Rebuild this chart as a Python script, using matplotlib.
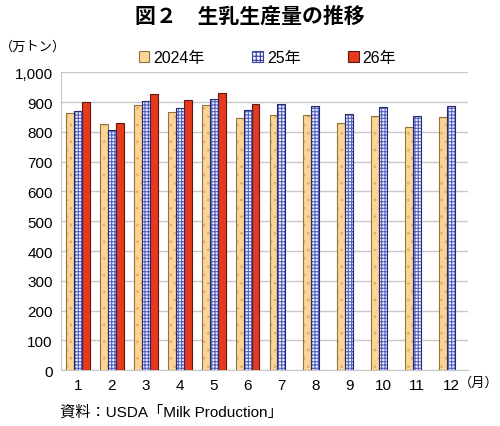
import numpy as np
import matplotlib.pyplot as plt
from matplotlib.patches import Patch

plt.rcParams['font.family'] = ['Liberation Sans', 'Noto Sans CJK JP', 'DejaVu Sans']
plt.rcParams['hatch.linewidth'] = 0.8

months = [str(m) for m in range(1, 13)]
y2024 = [864, 826, 892, 866, 890, 847, 858, 858, 829, 852, 817, 850]
y2025 = [871, 807, 904, 881, 911, 874, 893, 887, 860, 883, 853, 886]
y2026 = [901, 829, 928, 906, 931, 893]
labels = ['2024年', '25年', '26年']

x = np.arange(1, 13)
w = 0.235

fig = plt.figure(figsize=(5, 4.27), dpi=100)
ax = fig.add_axes([0.122, 0.131, 0.814, 0.697])

# 2024: light orange with faint dots
ax.bar(x - w, y2024, w, color='#fcd596', edgecolor='#e0b26a', hatch='..', linewidth=0, zorder=3)
ax.bar(x - w, y2024, w, fill=False, edgecolor='#8f7240', linewidth=0.8, zorder=4)
# 25: blue check on white
ax.bar(x, y2025, w, color='#eef0ff', edgecolor='#5262c4', hatch='+++++', linewidth=0, zorder=3)
ax.bar(x, y2025, w, fill=False, edgecolor='#262a66', linewidth=0.8, zorder=4)
# 26: red
ax.bar(x[:len(y2026)] + w, y2026, w, color='#e8391c', edgecolor='#5a1a10', linewidth=0.8, zorder=3)

ax.set_xlim(0.5, 12.5)
ax.set_ylim(0, 1000)
ax.set_yticks(range(0, 1001, 100))
ax.set_yticklabels([f'{v:,}' for v in range(0, 1001, 100)])
ax.set_xticks(x)
ax.set_xticklabels(months)
ax.tick_params(length=0, labelsize=11, pad=6)
ax.yaxis.grid(True, color='#c8c8c8', linewidth=1, zorder=0)
for s in ['top', 'right']:
    ax.spines[s].set_visible(False)
for s in ['left', 'bottom']:
    ax.spines[s].set_color('#c8c8c8')

handles = [
    Patch(facecolor='#fcd596', edgecolor='#8f7240', linewidth=0.8),
    Patch(facecolor='#eef0ff', edgecolor='#3a44a0', hatch='++++', linewidth=0.8),
    Patch(facecolor='#e8391c', edgecolor='#5a1a10', linewidth=0.8),
]
fig.legend(handles, labels, loc='center', bbox_to_anchor=(0.535, 0.862), ncol=3,
           frameon=False, fontsize=11.5, handlelength=0.65, handleheight=0.65,
           handletextpad=0.25, columnspacing=3.0)

fig.text(0.5, 0.962, '図２　生乳生産量の推移', ha='center', va='center', fontsize=15, fontweight='bold')
fig.text(0.0, 0.89, '（万トン）', ha='left', va='center', fontsize=9.5)
fig.text(0.918, 0.103, '（月）', ha='left', va='center', fontsize=9.5)
fig.text(0.12, 0.035, '資料：USDA「Milk Production」', ha='left', va='center', fontsize=11)

fig.savefig('out.png', dpi=100)
